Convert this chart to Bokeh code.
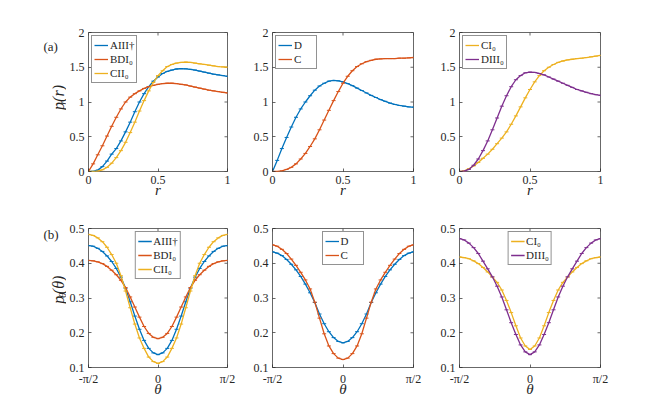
import math
import numpy as np
from bokeh.plotting import figure
from bokeh.models import Range1d, FixedTicker, Legend, LegendItem
from bokeh.core.properties import value
from bokeh.layouts import column, row
from bokeh.embed import file_html
from bokeh.resources import INLINE

# ---------------- data ----------------
r_grid = np.linspace(0.0, 1.0, 31)
theta_grid = np.linspace(-math.pi / 2, math.pi / 2, 31)

AIII_r = [0, 0.003, 0.02, 0.07, 0.15, 0.25, 0.33, 0.44, 0.57, 0.71, 0.86, 1.0, 1.12, 1.22, 1.30, 1.36,
          1.41, 1.44, 1.46, 1.475, 1.48, 1.478, 1.47, 1.46, 1.445, 1.43, 1.415, 1.40, 1.39, 1.38, 1.37]
BDI_r = [0, 0.11, 0.24, 0.37, 0.51, 0.65, 0.78, 0.9, 1.0, 1.07, 1.12, 1.16, 1.195, 1.22, 1.24, 1.255,
         1.265, 1.27, 1.27, 1.265, 1.255, 1.245, 1.23, 1.215, 1.2, 1.185, 1.17, 1.16, 1.15, 1.14, 1.13]
CII_r = [0, 0.0, 0.005, 0.025, 0.06, 0.12, 0.2, 0.3, 0.42, 0.56, 0.71, 0.87, 1.02, 1.16, 1.28, 1.38,
         1.45, 1.51, 1.54, 1.56, 1.57, 1.575, 1.57, 1.56, 1.55, 1.54, 1.53, 1.52, 1.51, 1.505, 1.5]
D_r = [0, 0.16, 0.33, 0.49, 0.64, 0.78, 0.9, 1.0, 1.09, 1.17, 1.23, 1.27, 1.30, 1.31, 1.305, 1.29,
       1.265, 1.235, 1.20, 1.165, 1.13, 1.095, 1.065, 1.035, 1.01, 0.985, 0.965, 0.95, 0.94, 0.93, 0.925]
C_r = [0, 0.0, 0.01, 0.03, 0.06, 0.11, 0.18, 0.26, 0.36, 0.47, 0.6, 0.74, 0.88, 1.02, 1.15, 1.27,
       1.37, 1.45, 1.51, 1.55, 1.58, 1.60, 1.615, 1.62, 1.625, 1.625, 1.625, 1.63, 1.63, 1.635, 1.64]
CI_r = [0, 0.01, 0.04, 0.08, 0.13, 0.19, 0.25, 0.32, 0.4, 0.48, 0.57, 0.68, 0.8, 0.93, 1.06, 1.18,
        1.29, 1.38, 1.45, 1.5, 1.54, 1.57, 1.59, 1.605, 1.615, 1.625, 1.63, 1.64, 1.65, 1.66, 1.67]
DIII_r = [0, 0.005, 0.03, 0.09, 0.18, 0.3, 0.44, 0.6, 0.77, 0.94, 1.09, 1.22, 1.32, 1.38, 1.42, 1.43,
          1.425, 1.41, 1.39, 1.36, 1.33, 1.3, 1.27, 1.24, 1.21, 1.18, 1.16, 1.14, 1.12, 1.105, 1.095]

AIII_t = [0.451, 0.449, 0.443, 0.434, 0.421, 0.405, 0.385, 0.360, 0.328, 0.289, 0.248, 0.210, 0.178, 0.155, 0.142, 0.137,
          0.142, 0.155, 0.178, 0.210, 0.248, 0.289, 0.328, 0.360, 0.385, 0.405, 0.421, 0.434, 0.443, 0.449, 0.451]
BDI_t = [0.408, 0.407, 0.404, 0.399, 0.391, 0.380, 0.367, 0.351, 0.330, 0.303, 0.274, 0.245, 0.218, 0.198, 0.187, 0.183,
         0.187, 0.198, 0.218, 0.245, 0.274, 0.303, 0.330, 0.351, 0.367, 0.380, 0.391, 0.399, 0.404, 0.407, 0.408]
CII_t = [0.483, 0.480, 0.473, 0.462, 0.446, 0.425, 0.400, 0.364, 0.320, 0.272, 0.225, 0.185, 0.155, 0.130, 0.117, 0.112,
         0.117, 0.130, 0.155, 0.185, 0.225, 0.272, 0.320, 0.364, 0.400, 0.425, 0.446, 0.462, 0.473, 0.480, 0.483]
D_t = [0.433, 0.429, 0.422, 0.411, 0.397, 0.381, 0.362, 0.340, 0.315, 0.287, 0.254, 0.226, 0.203, 0.186, 0.175, 0.171,
       0.175, 0.186, 0.203, 0.226, 0.254, 0.287, 0.315, 0.340, 0.362, 0.381, 0.397, 0.411, 0.422, 0.429, 0.433]
C_t = [0.453, 0.449, 0.440, 0.428, 0.412, 0.394, 0.374, 0.352, 0.326, 0.288, 0.242, 0.197, 0.162, 0.140, 0.127, 0.123,
       0.127, 0.140, 0.162, 0.197, 0.242, 0.288, 0.326, 0.352, 0.374, 0.394, 0.412, 0.428, 0.440, 0.449, 0.453]
CI_t = [0.418, 0.416, 0.413, 0.407, 0.399, 0.388, 0.375, 0.360, 0.345, 0.323, 0.293, 0.258, 0.220, 0.185, 0.162, 0.152,
        0.162, 0.185, 0.220, 0.258, 0.293, 0.323, 0.345, 0.360, 0.375, 0.388, 0.399, 0.407, 0.413, 0.416, 0.418]
DIII_t = [0.471, 0.467, 0.458, 0.445, 0.428, 0.406, 0.384, 0.361, 0.334, 0.303, 0.266, 0.229, 0.195, 0.165, 0.145, 0.137,
          0.145, 0.165, 0.195, 0.229, 0.266, 0.303, 0.334, 0.361, 0.384, 0.406, 0.428, 0.445, 0.458, 0.467, 0.471]

r_ticks = [0, 0.5, 1]
pr_ticks = [0, 0.5, 1, 1.5, 2]
theta_ticks = [-math.pi / 2, 0, math.pi / 2]
theta_tick_labels = ["-π/2", "0", "π/2"]
pt_ticks = [0.1, 0.2, 0.3, 0.4, 0.5]

# ---------------- style ----------------
SERIF = "Liberation Serif"
AX = "#262626"
BLUE, ORANGE, YELLOW, PURPLE = "#0072BD", "#D95319", "#EDB120", "#7E2F8E"
EMPTY = []


def style_axis(ax, label_standoff=-5):
    ax.axis_line_color = None
    ax.major_tick_in = 3
    ax.major_tick_out = 0
    ax.minor_tick_in = 0
    ax.minor_tick_out = 0
    ax.major_tick_line_color = AX
    ax.major_tick_line_width = 0.7
    ax.major_label_text_font = SERIF
    ax.major_label_text_color = AX
    ax.major_label_standoff = 4
    ax.major_label_text_font_size = "12px"
    ax.axis_label_text_font = SERIF
    ax.axis_label_text_font_style = "italic"
    ax.axis_label_text_font_size = "15px"
    ax.axis_label_text_color = AX
    ax.axis_label_standoff = label_standoff


def make_fig(xr, yr, xt, yt, w, h, left, right, top, bottom, xlabel, label_standoff):
    p = figure(width=w, height=h, x_range=Range1d(*xr), y_range=Range1d(*yr),
               output_backend="svg", toolbar_location=None,
               min_border_left=left, min_border_right=right,
               min_border_top=top, min_border_bottom=bottom)
    p.grid.visible = False
    p.outline_line_color = AX
    p.outline_line_width = 0.7
    xa, ya = p.xaxis[0], p.yaxis[0]
    xa.ticker = FixedTicker(ticks=xt)
    ya.ticker = FixedTicker(ticks=yt)
    style_axis(xa, label_standoff)
    style_axis(ya)
    xa.axis_label = xlabel
    # inward ticks on the top and right edges of the box
    p.ray(x=xt, y=[yr[1]] * len(xt), length=3, length_units="screen", angle=-math.pi / 2,
          line_color=AX, line_width=0.7)
    p.ray(x=[xr[1]] * len(yt), y=yt, length=3, length_units="screen", angle=math.pi,
          line_color=AX, line_width=0.7)
    return p, xa


def add_series(p, x, y, color, label, items):
    ln = p.line(x, y, line_color=color, line_width=1.3)
    p.scatter(x, y, marker="dash", size=4, line_color=color, line_width=1.0)
    icon = p.scatter(EMPTY, EMPTY, marker="cross", size=8, line_color=color, line_width=1.0)
    items.append(LegendItem(label=label, renderers=[ln, icon]))


def add_legend(p, items, loc):
    lg = Legend(items=items, location=loc, margin=3, padding=2, spacing=0,
                glyph_width=14, glyph_height=14, label_height=14, label_standoff=2,
                label_text_font=SERIF, label_text_font_size="11px", label_text_color=AX,
                border_line_color=AX, border_line_width=0.6,
                background_fill_color="white", background_fill_alpha=1.0)
    p.add_layout(lg)


def make_strip(h, frame_center, sub, panel_tag, tag_y):
    """Narrow blank figure holding the panel tag and the rotated y-axis title."""
    s = figure(width=66, height=h, x_range=Range1d(0, 66), y_range=Range1d(0, h),
               output_backend="svg", toolbar_location=None, x_axis_type=None, y_axis_type=None,
               min_border=0)
    s.grid.visible = False
    s.outline_line_color = None
    s.text(x=[43], y=[tag_y], text=[panel_tag], text_font=value(SERIF), text_font_size="13px",
           text_color=AX, text_align="left", text_baseline="middle")
    base_x = 58
    sub_w = 4.3 if sub == "r" else 5.5
    par_w = 17.0 if sub == "r" else 18.7
    total = 8.0 + sub_w + par_w
    y0 = h - frame_center - total / 2
    common = dict(angle=math.pi / 2, text_font=value(SERIF), text_font_style="italic",
                  text_color=AX, text_align="left", text_baseline="alphabetic")
    s.text(x=[base_x], y=[y0], text=["p"], text_font_size="16px", **common)
    s.text(x=[base_x + 3], y=[y0 + 8.0], text=[sub], text_font_size="11px", **common)
    s.text(x=[base_x], y=[y0 + 8.0 + sub_w], text=["(" + sub + ")"], text_font_size="16px", **common)
    return s


W = [171, 186, 187]
L = [20, 35, 36]
R = [10, 10, 10]

# ---------------- top row ----------------
top = [make_fig((0, 1), (0, 2), r_ticks, pr_ticks, W[i], 208, L[i], R[i], 32, 37, "r", -5)[0]
       for i in range(3)]

items = []
add_series(top[0], r_grid, AIII_r, BLUE, "AIII†", items)
add_series(top[0], r_grid, BDI_r, ORANGE, "BDI₀", items)
add_series(top[0], r_grid, CII_r, YELLOW, "CII₀", items)
add_legend(top[0], items, "top_left")

items = []
add_series(top[1], r_grid, D_r, BLUE, "D", items)
add_series(top[1], r_grid, C_r, ORANGE, "C", items)
add_legend(top[1], items, "top_left")

items = []
add_series(top[2], r_grid, CI_r, YELLOW, "CI₀", items)
add_series(top[2], r_grid, DIII_r, PURPLE, "DIII₀", items)
add_legend(top[2], items, "top_left")

strip_top = make_strip(208, 101.5, "r", "(a)", 187)

# ---------------- bottom row ----------------
bot = []
for i in range(3):
    f, xa = make_fig((-math.pi / 2, math.pi / 2), (0.1, 0.5), theta_ticks, pt_ticks,
                     W[i], 195, L[i], R[i], 20, 36, "θ", -8)
    xa.major_label_overrides = dict(zip(theta_ticks, theta_tick_labels))
    bot.append(f)

items = []
add_series(bot[0], theta_grid, AIII_t, BLUE, "AIII†", items)
add_series(bot[0], theta_grid, BDI_t, ORANGE, "BDI₀", items)
add_series(bot[0], theta_grid, CII_t, YELLOW, "CII₀", items)
add_legend(bot[0], items, "top_center")

items = []
add_series(bot[1], theta_grid, D_t, BLUE, "D", items)
add_series(bot[1], theta_grid, C_t, ORANGE, "C", items)
add_legend(bot[1], items, "top_center")

items = []
add_series(bot[2], theta_grid, CI_t, YELLOW, "CI₀", items)
add_series(bot[2], theta_grid, DIII_t, PURPLE, "DIII₀", items)
add_legend(bot[2], items, "top_center")

strip_bot = make_strip(195, 89.5, "θ", "(b)", 186)

layout = column(row(strip_top, *top), row(strip_bot, *bot))
open("out.html", "w").write(file_html(layout, INLINE))
